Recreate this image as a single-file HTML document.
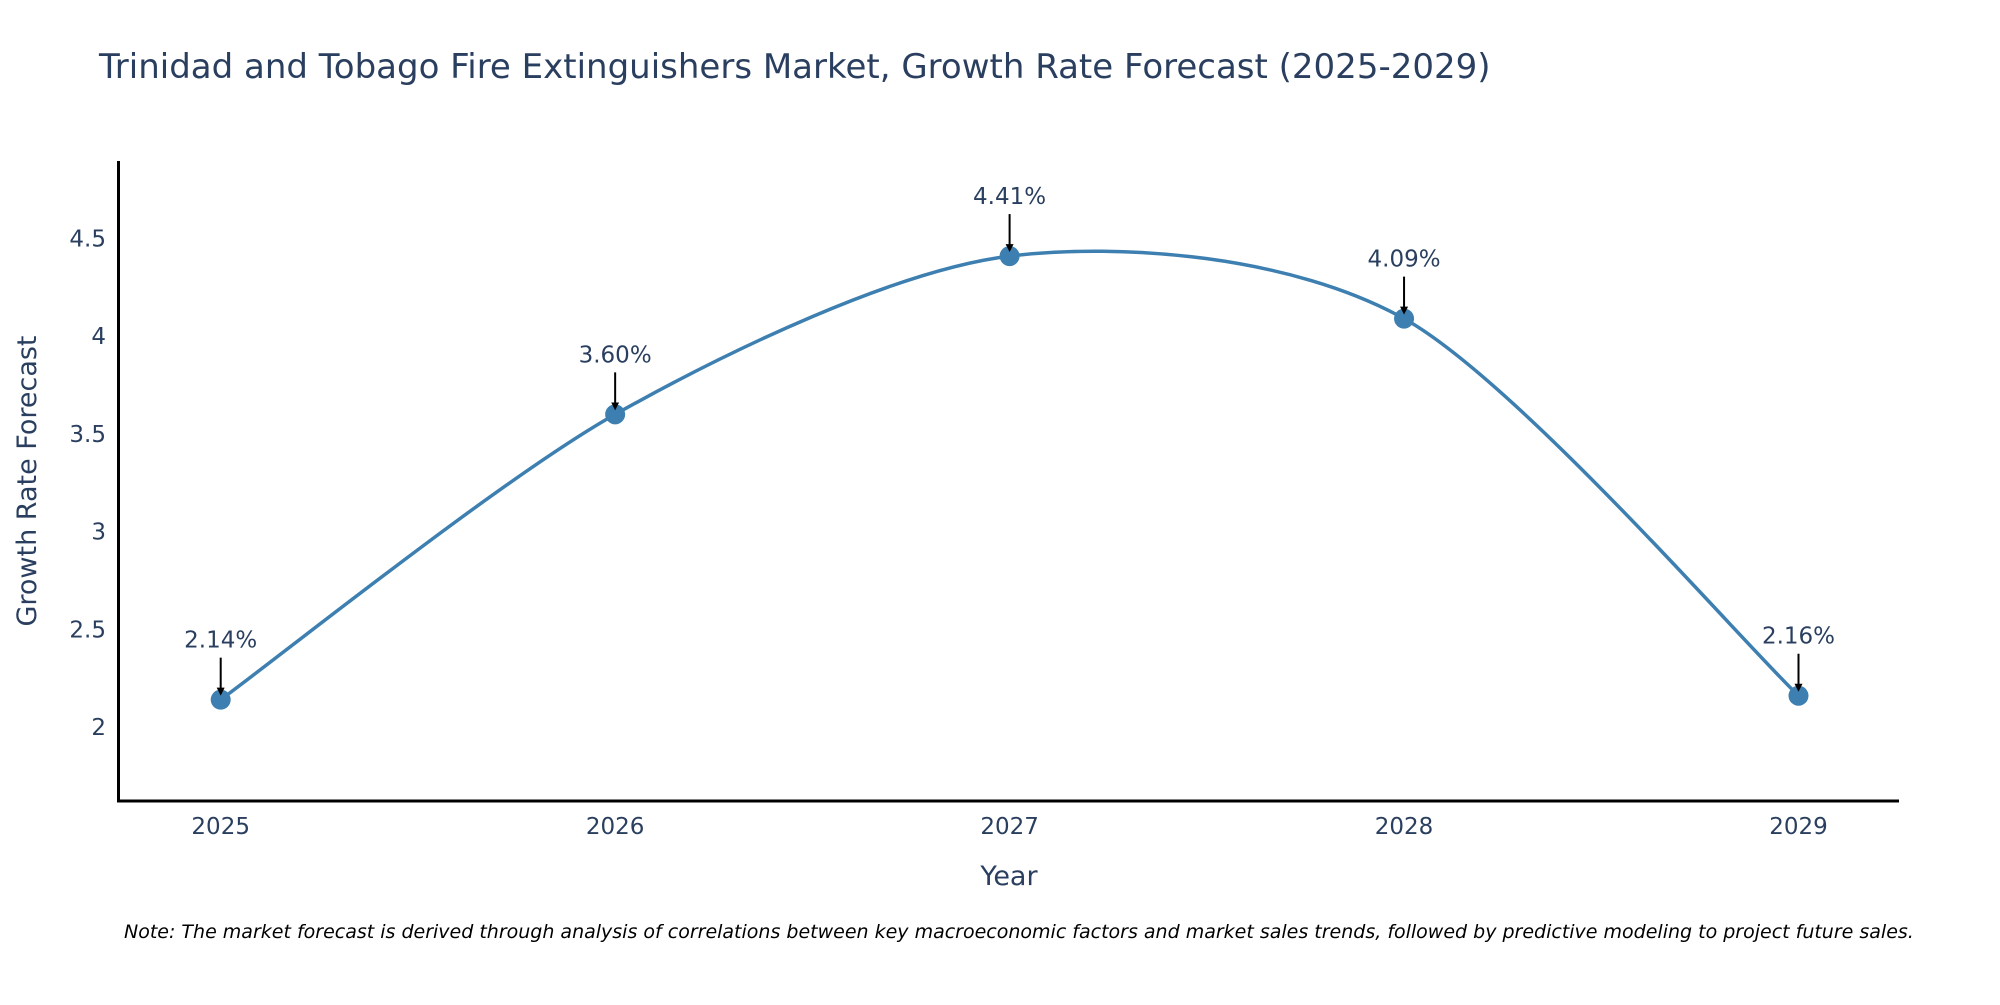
<!DOCTYPE html>
<html><head><meta charset="utf-8"><style>
body{margin:0;background:#fff;}
svg text{font-family:"DejaVu Sans","Liberation Sans",sans-serif;}
</style></head><body>
<svg id="chart" width="2000" height="1000" xmlns="http://www.w3.org/2000/svg">
<defs><marker id="ah" markerWidth="8" markerHeight="8" refX="6" refY="4" orient="auto" markerUnits="userSpaceOnUse" viewBox="0 0 8 8"><path d="M0,0 L8,4 L0,8 z" fill="#000"/></marker></defs>
<text x="99" y="78" font-size="34" fill="#2a3f5f">Trinidad and Tobago Fire Extinguishers Market, Growth Rate Forecast (2025-2029)</text>
<g id="yticks"></g><g id="xticks"></g>
<line x1="118.5" y1="161" x2="118.5" y2="802" stroke="#000" stroke-width="3"/>
<line x1="117" y1="801" x2="1899" y2="801" stroke="#000" stroke-width="3"/>
<text transform="translate(36,481) rotate(-90)" text-anchor="middle" font-size="27" fill="#2a3f5f">Growth Rate Forecast</text>
<text x="1009" y="885" text-anchor="middle" font-size="27" fill="#2a3f5f">Year</text>
<g id="series"></g>
<text x="124" y="938" font-size="19" font-style="italic" fill="#000">Note: The market forecast is derived through analysis of correlations between key macroeconomic factors and market sales trends, followed by predictive modeling to project future sales.</text>
</svg>
<script>
const years=[2025,2026,2027,2028,2029];
const values=[2.14,3.60,4.41,4.09,2.16];
const labels=["2.14%","3.60%","4.41%","4.09%","2.16%"];
const yTicks=[2,2.5,3,3.5,4,4.5];
const yTickLabels=["2","2.5","3","3.5","4","4.5"];
const NS="http://www.w3.org/2000/svg";
function xS(yr){return 220.7+(yr-2025)*(1798.5-220.7)/4;}
function yS(v){return 727-(v-2)*195.4;}
function mk(tag,attrs,parent){const e=document.createElementNS(NS,tag);for(const k in attrs)e.setAttribute(k,attrs[k]);parent.appendChild(e);return e;}
const yt=document.getElementById('yticks');
yTicks.forEach((t,i)=>{const e=mk('text',{x:106,y:yS(t)+8,'text-anchor':'end','font-size':23,fill:'#2a3f5f'},yt);


e.textContent=yTickLabels[i];});
const xt=document.getElementById('xticks');
years.forEach(y=>{const e=mk('text',{x:xS(y),y:834,'text-anchor':'middle','font-size':23,fill:'#2a3f5f'},xt);


e.textContent=y;});
const s=document.getElementById('series');
const pts=years.map((y,i)=>[xS(y),yS(values[i])]);
let d='M'+pts[0][0]+','+pts[0][1];
for(let i=0;i<pts.length-1;i++){const p0=pts[Math.max(0,i-1)],p1=pts[i],p2=pts[i+1],p3=pts[Math.min(pts.length-1,i+2)];
const t=1/7;
d+=' C'+(p1[0]+(p2[0]-p0[0])*t)+','+(p1[1]+(p2[1]-p0[1])*t)+' '+(p2[0]-(p3[0]-p1[0])*t)+','+(p2[1]-(p3[1]-p1[1])*t)+' '+p2[0]+','+p2[1];}
const line=mk('path',{d:d,fill:'none',stroke:'#3d7fb0','stroke-width':3.5},s);


pts.forEach((p,i)=>{
const c=mk('circle',{cx:p[0],cy:p[1],r:10,fill:'#3d7fb0'},s);


const a=mk('line',{x1:p[0],y1:p[1]-42,x2:p[0],y2:p[1]-6,stroke:'#000','stroke-width':2,'marker-end':'url(#ah)'},s);


const tx=mk('text',{x:p[0],y:p[1]-52,'text-anchor':'middle','font-size':23,fill:'#2a3f5f'},s);


tx.textContent=labels[i];});
</script>
</body></html>
